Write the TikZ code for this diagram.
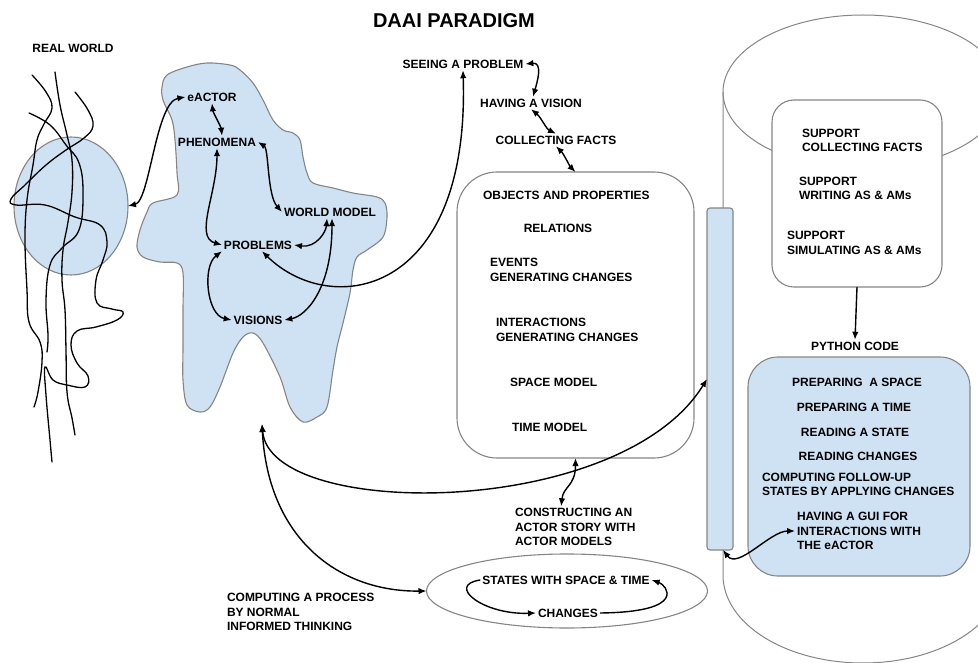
\documentclass[tikz,border=0pt]{standalone}
\usepackage{fontspec}
\setmainfont{Liberation Sans}
\usetikzlibrary{shapes.geometric, arrows.meta}
\definecolor{paleblue}{HTML}{CFE2F3}
\definecolor{edgegray}{HTML}{858585}

\begin{document}
\begin{tikzpicture}[x=1pt,y=-1pt]
\tikzset{ >={Latex[length=8pt,width=6.5pt]}, inner sep=2pt, outer sep=0pt,
  txt/.style={font=\bfseries\fontsize{12}{14.5}\selectfont, align=left},
  lft/.style={txt, anchor=west},
  frame/.style={draw=edgegray, line width=1.1pt},
  arr/.style={<->, line width=1.4pt},
  scrib/.style={line width=1.3pt, line cap=round},
}

\useasboundingbox (0,0) rectangle (978,663);
\clip (0,0) rectangle (978,663);

%\draw [lightgray, dashed](0,0) grid[step=50] (978,663);

\node [anchor=west, font=\bfseries\fontsize{20}{23}\selectfont] (title) at (371,21) {DAAI PARADIGM};

% real world
\node [txt] (realw) at (73,48) {REAL WORLD};
\node [frame, fill=paleblue, ellipse, inner sep=0pt, minimum width=114pt, minimum height=138pt] (rw) at (71,206) {};

\draw [scrib] plot [smooth, tension=0.7] coordinates {(32,75) (46,92) (52,108) (44,124) (37,140) (33,165) (27,200) (25,240) (27,290) (29,322) (40,342) (42,362) (38,392) (34,407)};
\draw [scrib] plot [smooth, tension=0.7] coordinates {(55,72) (60,105) (67,135) (72,160) (72,192) (68,222) (63,250) (62,280) (65,310) (66,350) (67,392) (72,418) (75,435)};
\draw [scrib] plot [smooth, tension=0.7] coordinates {(75,92) (88,110) (93,126) (84,138) (66,150) (46,165) (25,185) (11,199) (16,205) (45,205) (75,217) (100,225) (107,242) (103,260) (96,280) (97,303) (112,309) (123,312) (117,320) (96,327) (77,331) (71,345) (77,363) (88,376) (85,387) (67,385) (53,380) (45,367) (46,395) (50,440) (52,462)};
\draw [scrib] plot [smooth, tension=0.7] coordinates {(29,113) (50,125) (66,145) (79,163) (83,193) (79,230) (62,248) (50,265) (46,300) (48,335) (47,352)};

% mind blob
\draw [frame, fill=paleblue] plot [smooth cycle, tension=0.55] coordinates {(162,87) (167,75) (187,67) (207,63) (230,65) (240,70) (253,83) (263,100) (273,120) (283,130) (293,133) (300,140) (303,157) (307,173) (313,183) (333,188) (353,193) (377,197) (385,203) (387,217) (383,237) (367,250) (357,257) (353,270) (350,293) (343,323) (337,347) (333,370) (327,407) (317,417) (303,422) (290,407) (280,377) (263,343) (253,333) (243,337) (233,353) (220,387) (210,407) (200,412) (187,405) (183,380) (183,347) (183,310) (183,273) (177,263) (160,262) (143,257) (137,247) (140,230) (147,212) (153,203) (177,195) (177,173) (175,140) (172,120) (163,100)};
\coordinate (blobfoot) at (262,424);

\node [txt] (eactor) at (212,97) {eACTOR};
\node [txt] (phen) at (217,142) {PHENOMENA};
\node [txt] (wmodel) at (330,212) {WORLD MODEL};
\node [txt] (probl) at (258,245) {PROBLEMS};
\node [txt] (vision) at (258,320) {VISIONS};

% tool cylinder
\draw [frame, line width=1pt] (723,92) -- (723,575) .. controls (723,624) and (786,663) .. (863,663) .. controls (940,663) and (1003,624) .. (1003,575) -- (1003,92);
\draw [frame, line width=1pt] (863,92) ellipse [x radius=140, y radius=77];

% actor story
\node [txt] (seeing) at (463,64) {SEEING A PROBLEM};
\node [txt] (having) at (531,103) {HAVING A VISION};
\node [txt] (collect) at (556,140) {COLLECTING FACTS};

\node [frame, rectangle, rounded corners=40pt, minimum width=237pt, minimum height=286pt] (objbox) at (575.5,315) {};
\node [lft] (objprop) at (481,195) {OBJECTS AND PROPERTIES};
\node [txt] (relat) at (558,228) {RELATIONS};
\node [lft] (events) at (488,270) {EVENTS\\GENERATING CHANGES};
\node [lft] (interact) at (494,330) {INTERACTIONS\\GENERATING CHANGES};
\node [lft] (spacem) at (508,382) {SPACE MODEL};
\node [lft] (timem) at (510,427) {TIME MODEL};

\node [lft, text depth=0pt] (construct) at (513,527) {CONSTRUCTING AN\\ACTOR STORY WITH\\ACTOR MODELS};
\node [lft] (computing) at (225,612) {COMPUTING A PROCESS\\BY NORMAL\\INFORMED THINKING};

\node [frame, ellipse, inner sep=0pt, minimum width=281pt, minimum height=74pt] (states) at (567,591) {};
\node [txt] (stwst) at (566,580) {STATES WITH SPACE \& TIME};
\node [txt] (chg) at (568,613) {CHANGES};

% software side
\node [frame, fill=paleblue, rectangle, rounded corners=3pt, minimum width=26pt, minimum height=342pt] (bar) at (720,379) {};
\node [frame, fill=white, rectangle, rounded corners=22pt, minimum width=170pt, minimum height=187pt] (support) at (857,193.5) {};
\node [lft] (sup1) at (800,140.5) {SUPPORT\\COLLECTING FACTS};
\node [lft] (sup2) at (797,188.5) {SUPPORT\\WRITING AS \& AMs};
\node [lft] (sup3) at (785,243) {SUPPORT\\SIMULATING AS \& AMs};

\node [txt] (pylbl) at (855,346) {PYTHON CODE};
\node [frame, fill=paleblue, rectangle, rounded corners=30pt, minimum width=222pt, minimum height=219pt] (pybox) at (859,466.5) {};
\node [txt] (py1) at (857,382) {PREPARING\ \ A SPACE};
\node [txt] (py2) at (854,407) {PREPARING A TIME};
\node [txt] (py3) at (855,432) {READING A STATE};
\node [txt] (py4) at (858,456) {READING CHANGES};
\node [lft] (py5) at (760,484.5) {COMPUTING FOLLOW-UP\\STATES BY APPLYING CHANGES};
\node [lft] (gui) at (795,531) {HAVING A GUI FOR\\INTERACTIONS WITH\\THE eACTOR};

% connectors
\draw [arr] (rw.east) .. controls +(22,-5) and +(-30,5) .. (eactor.west);
\draw [arr] (eactor.south) .. controls +(1,9) and +(-1,-9) .. ([xshift=5pt]phen.north);
\draw [arr] (phen.east) .. controls +(11,7) and +(-15,-17) .. (wmodel.west);
\draw [arr] (phen.south) .. controls +(0,45) and +(-28,-8) .. (probl.west);
\draw [arr] (probl.south west) .. controls +(-20,15) and +(-25,-5) .. (vision.west);
\draw [arr] (probl.east) .. controls +(22,3) and +(-1,14) .. ([xshift=-3pt]wmodel.south);
\draw [arr] ([xshift=2pt]wmodel.south) .. controls +(0,70) and +(22,-4) .. (vision.east);
\draw [arr] ([xshift=4pt]probl.south) .. controls +(68,67) and +(7,228) .. (seeing.south);

\draw [arr] (seeing.east) .. controls +(18,-2) and +(4,-14) .. ([xshift=2pt]having.north);
\draw [arr] (having.south) .. controls +(10,8) and +(-10,-5) .. (collect.north);
\draw [arr] (collect.south) .. controls +(8,8) and +(-6,-6) .. (objbox.north);
\draw [arr] (objbox.south) .. controls +(0,28) and +(2,-20) .. ([xshift=-14pt]construct.north);

\draw [arr] (blobfoot) .. controls (270,520) and (620,520) .. (bar.west);
\draw [arr] (blobfoot) .. controls (268,540) and (340,592) .. (states.west);

\draw [->, line width=1.4pt] (stwst.west) .. controls +(-35,5) and +(-53,2) .. (chg.west);
\draw [->, line width=1.4pt] (chg.east) .. controls +(89,-1) and +(15,5) .. (stwst.east);

\draw [->, line width=1.4pt] (support.south) -- (pylbl.north);
\draw [arr] ([xshift=3pt]bar.south) .. controls +(15,20) and +(-25,0) .. (gui.west);

\end{tikzpicture}
\end{document}
